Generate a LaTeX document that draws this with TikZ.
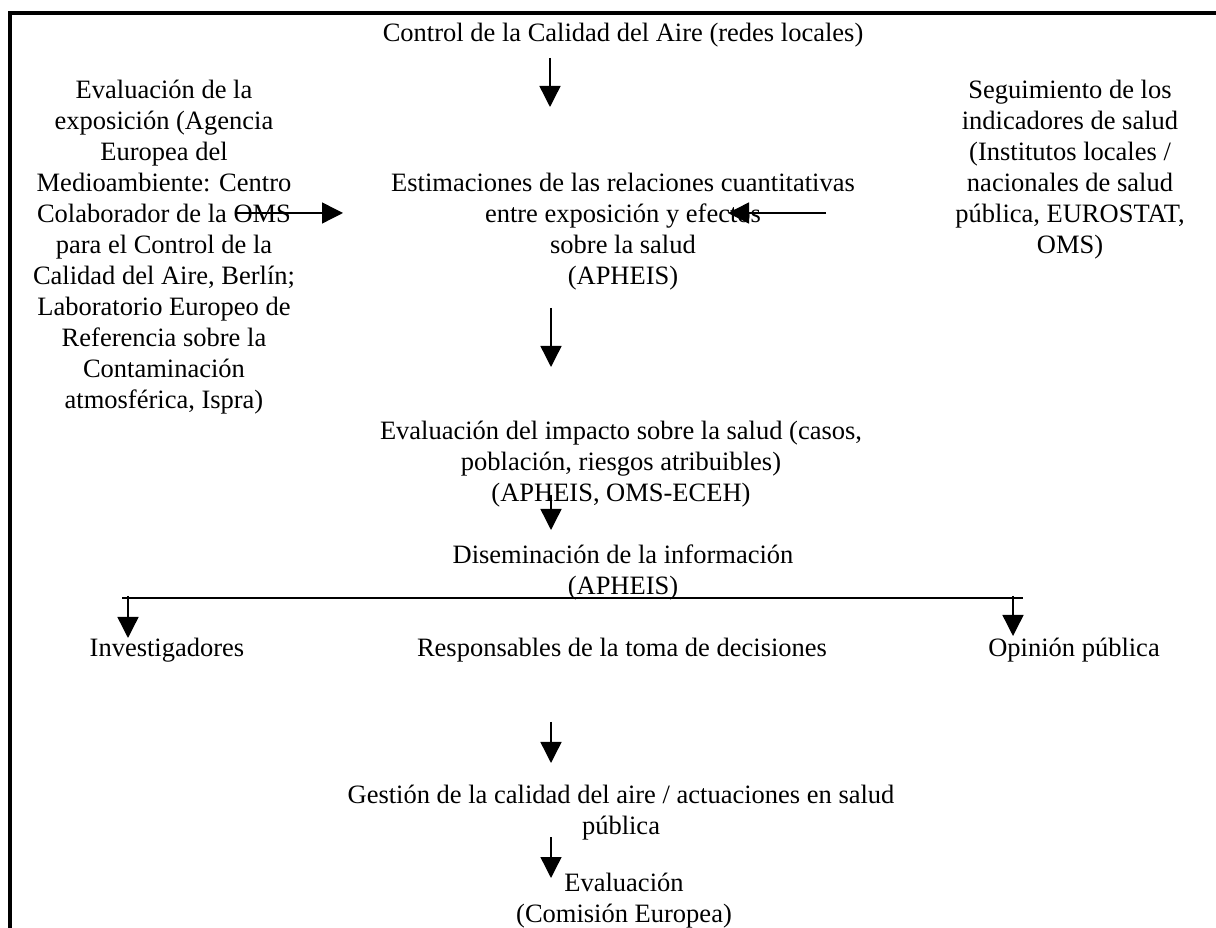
\documentclass[tikz,border=0pt]{standalone}
\usepackage{fontspec}
\setmainfont{Liberation Serif}
\usetikzlibrary{arrows.meta}
\newcommand\topstrut{\rule{0pt}{22pt}}
\tikzset{
  txt/.style={font=\fontsize{26.5}{31}\selectfont, align=center, inner sep=0pt, anchor=north},
  arr/.style={line width=1.4pt, -{Triangle[length=21pt,width=21pt]}},
  frame/.style={line width=3.5pt, line join=miter}
}
\begin{document}
\begin{tikzpicture}[x=1pt,y=1pt]
\useasboundingbox (0,0) rectangle (1216,927);
% frame
\draw[frame] (10,-10) -- (10,914) -- (1230,914);
% text nodes
\node[txt] (ctrl) at (623,908) {\topstrut Control de la Calidad del Aire (redes locales)};
\node[txt] (expo) at (164,851) {\topstrut Evaluación de la\\exposición (Agencia\\Europea del\\Medioambiente: Centro\\Colaborador de la OMS\\para el Control de la\\Calidad del Aire, Berlín;\\Laboratorio Europeo de\\Referencia sobre la\\Contaminación\\atmosférica, Ispra)};
\node[txt] (segui) at (1070,851) {\topstrut Seguimiento de los\\indicadores de salud\\(Institutos locales /\\nacionales de salud\\pública, EUROSTAT,\\OMS)};
\node[txt] (est) at (623,758) {\topstrut Estimaciones de las relaciones cuantitativas\\entre exposición y efectos\\sobre la salud\\(APHEIS)};
\node[txt] (imp) at (621,510) {\topstrut Evaluación del impacto sobre la salud (casos,\\población, riesgos atribuibles)\\(APHEIS, OMS-ECEH)};
\node[txt] (dis) at (623,386) {\topstrut Diseminación de la información\\(APHEIS)};
\node[txt] (inv) at (167,293) {\topstrut Investigadores};
\node[txt] (resp) at (622,293) {\topstrut Responsables de la toma de decisiones};
\node[txt] (opin) at (1074,293) {\topstrut Opinión pública};
\node[txt] (gest) at (621,146) {\topstrut Gestión de la calidad del aire / actuaciones en salud\\pública};
\node[txt] (evalf) at (624,58) {\topstrut Evaluación\\(Comisión Europea)};
% connector end points
\coordinate (a1s) at (550,869); \coordinate (a1e) at (550,820);
\coordinate (ls) at (235,714);  \coordinate (le) at (343,714);
\coordinate (rs) at (826,714);  \coordinate (re) at (728,714);
\coordinate (a2s) at (551,619); \coordinate (a2e) at (551,560);
\coordinate (a3s) at (551,432); \coordinate (a3e) at (551,397);
\coordinate (hl) at (122,329);  \coordinate (hr) at (1023,329);
\coordinate (bls) at (128,331); \coordinate (ble) at (128,289);
\coordinate (brs) at (1013,331); \coordinate (bre) at (1013,291);
\coordinate (a4s) at (551,205); \coordinate (a4e) at (551,164);
\coordinate (a5s) at (551,90);  \coordinate (a5e) at (551,49);
% connectors
\draw[arr] (a1s) -- (a1e);
\draw[arr] (ls) -- (le);
\draw[arr] (rs) -- (re);
\draw[arr] (a2s) -- (a2e);
\draw[arr] (a3s) -- (a3e);
\draw[line width=1.4pt] (hl) -- (hr);
\draw[arr] (bls) -- (ble);
\draw[arr] (brs) -- (bre);
\draw[arr] (a4s) -- (a4e);
\draw[arr] (a5s) -- (a5e);
\end{tikzpicture}
\end{document}
